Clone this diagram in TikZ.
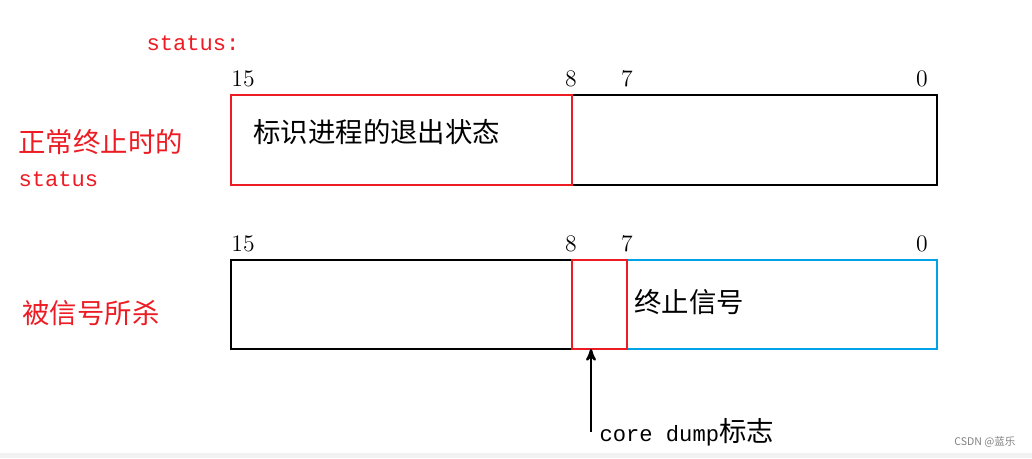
\documentclass[tikz,border=0pt]{standalone}
\usepackage{fontspec}
\newfontfamily\cjk{Noto Sans CJK SC}
\newfontfamily\mono{Liberation Mono}
\usetikzlibrary{arrows}
\definecolor{myred}{RGB}{237,28,36}
\definecolor{myblue}{RGB}{0,162,232}
\begin{document}
\begin{tikzpicture}[x=0.02cm,y=-0.02cm,>=stealth',semithick]
\tikzset{font=\fontsize{13.5pt}{16}\selectfont}
\tikzstyle{bit}=[inner sep=0pt,anchor=base]
\tikzstyle{redtxt}=[text=myred,inner sep=0pt,anchor=base west]
\useasboundingbox (0,0) rectangle (1032,458);
\fill[gray!10] (0,453) rectangle (1032,458);

        \node[redtxt,font=\mono\fontsize{12.6pt}{15}\selectfont] (title) at (146,50) {status:};
        \node[redtxt,font=\cjk\fontsize{15.6pt}{18}\selectfont] (n1) at (18,152) {正常终止时的};
        \node[redtxt,font=\mono\fontsize{12.6pt}{15}\selectfont] (n2) at (18,186) {status};
        \node[redtxt,font=\cjk\fontsize{15.6pt}{18}\selectfont] (k1) at (22,323) {被信号所杀};

        % normal exit
        \draw[line width=1.3pt] (231,95) rectangle (937,185);
        \draw[myred,line width=1.3pt] (231,95) rectangle (572,185);
        \node[inner sep=0pt,anchor=base west,font=\cjk\fontsize{15.6pt}{18}\selectfont] (s1) at (253,142) {标识进程的退出状态};
        \foreach \x/\t in {243/15,571/8,627/7,922/0}{
          \node[bit] at (\x,86) {\t};
          \node[bit] at (\x,251) {\t};
        }

        % killed by signal
        \draw[line width=1.3pt] (231,260) rectangle (937,349);
        \draw[myblue,line width=1.3pt] (627,260) rectangle (937,349);
        \draw[myred,line width=1.3pt] (572,260) rectangle (627,349);
        \node[inner sep=0pt,anchor=base west,font=\cjk\fontsize{15.6pt}{18}\selectfont] (s2) at (634,312) {终止信号};
        \coordinate (core) at (591,349);
        \node[inner sep=0pt,anchor=base west,font=\mono\fontsize{12.6pt}{15}\selectfont] (cd) at (599,441) {core dump{\cjk\fontsize{15.6pt}{18}\selectfont 标志}};
        \draw[->,line width=1.3pt] (591,432) -- (core);

        \node[text=gray,font=\cjk\fontsize{6pt}{7}\selectfont,anchor=base east,inner sep=0pt] (wm) at (1016,445) {CSDN @蓝乐};
\end{tikzpicture}
\end{document}
